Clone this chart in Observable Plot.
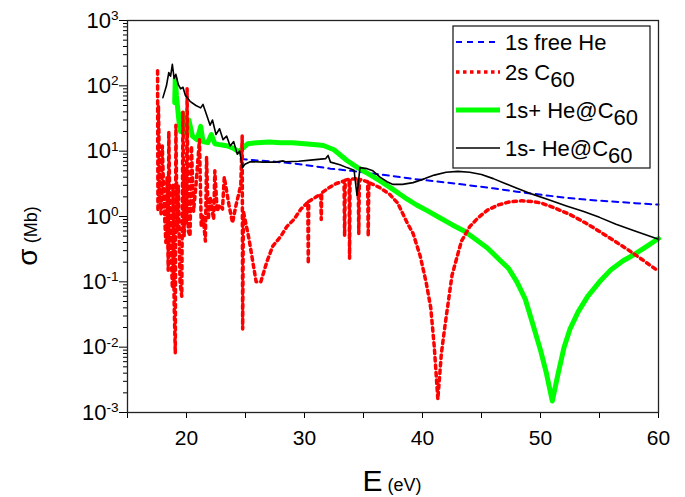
<!DOCTYPE html>
<html><head><meta charset="utf-8">
<script src="https://cdn.jsdelivr.net/npm/d3@7"></script>
<script src="https://cdn.jsdelivr.net/npm/@observablehq/plot@0.6"></script>
<style>body{margin:0;background:#fff} #chart{width:685px;height:497px}</style>
</head><body><div id="chart"></div>
<script>
// 1s free He
const blueE = [24.6,26,27.5,29,30.5,32.2,34,35.5,37.3,39,40.5,42.1,44,46,48,50.1,52,54,56,58,60];
const blueS = [7.6,7.2,6.9,6.5,6.0,5.4,5.0,4.6,4.2,3.8,3.55,3.3,3.0,2.7,2.4,2.15,1.95,1.8,1.7,1.6,1.52];
// 2s C60
const redE = [17.55,17.58,17.62,17.75,17.85,17.95,18.1,18.25,18.35,18.45,18.5,18.6,18.7,18.8,18.85,18.95,19.05,19.1,19.2,19.3,19.45,19.6,19.7,19.8,19.9,20.0,20.05,20.15,20.3,20.42,20.6,20.8,21.1,21.25,21.4,21.6,21.7,21.85,22.0,22.3,22.4,22.6,22.8,23.05,23.2,23.6,23.9,24.2,24.6,24.72,24.76,24.82,25.3,25.9,26.3,26.8,27.3,28.0,28.5,29.1,29.7,30.28,30.32,30.36,31.0,31.38,31.42,31.46,32.0,32.7,33.35,33.4,33.45,33.78,33.82,33.86,34.55,34.6,34.65,35.35,35.4,35.45,36.0,36.4,37.2,37.9,38.7,39.2,39.8,40.3,40.7,41.0,41.3,41.6,41.9,42.5,43.3,44.0,44.7,45.5,46.4,47.4,48.4,49.3,50.1,51.2,52.5,53.8,55.0,56.2,57.3,58.6,60];
const redS = [170,1.2,50,2,1.1,12,1.5,0.4,4,0.15,20,1,0.3,0.08,3,0.05,0.008,25,0.6,3,0.1,0.06,40,0.5,5,0.8,90,0.6,0.5,12,1.2,3,15,0.7,1,0.42,8,0.9,2,0.9,5,1.2,1.5,1.3,4,1.5,0.8,1.5,3,17,0.019,1.2,0.45,0.1,0.1,0.2,0.35,0.5,0.7,0.9,1.3,1.65,0.19,1.7,2.0,2.2,0.9,2.3,2.7,3.2,3.5,0.5,3.6,3.7,0.23,3.75,3.8,0.55,3.7,3.4,0.5,3.3,3.0,2.75,2.2,1.6,0.8,0.55,0.25,0.1,0.04,0.01,0.0016,0.008,0.021,0.126,0.42,0.7,0.95,1.25,1.5,1.68,1.74,1.7,1.6,1.35,1.07,0.8,0.59,0.43,0.32,0.22,0.145];
// 1s+ He@C60
const greenE = [19.0,19.05,19.15,19.35,19.5,19.7,19.9,20.2,20.5,20.9,21.2,21.4,21.8,22.1,22.4,22.9,23.5,24.0,24.4,24.75,25.2,26,27,28,29,30,31,31.6,32.5,33.6,34.5,35.5,36.4,37.5,38.5,39.5,40.4,41.5,42.5,43.6,44.5,45.5,46.5,47.3,48.0,48.7,49.3,50.0,50.5,51.0,51.5,52.0,52.5,53.2,54.0,55.0,56.0,57.0,57.9,59.0,60.0];
const greenS = [55,130,70,30,20,38,18,30,17,15,24,14,13.5,18,13,12.5,12,11,9.8,11,13,13.5,13.8,13.5,13.4,13,12.5,12.2,10.5,7.2,5.6,4.4,3.5,2.6,1.95,1.5,1.23,0.95,0.75,0.59,0.45,0.33,0.22,0.16,0.1,0.055,0.024,0.009,0.004,0.0015,0.004,0.01,0.019,0.035,0.06,0.1,0.155,0.21,0.26,0.35,0.46];
// 1s- He@C60
const blackE = [18.0,18.3,18.5,18.65,18.8,18.95,19.1,19.3,19.5,19.7,19.9,20.3,20.8,21.2,21.4,21.7,22.0,22.2,22.5,22.8,23.1,23.4,23.7,24.0,24.3,24.5,24.75,24.95,25.4,26.5,27.5,28.2,28.4,29.5,30.5,31.8,32.0,32.2,33.0,33.6,34.2,34.45,34.7,35.3,35.8,36.4,37.0,37.5,38.3,39.2,40.2,41,42,43,44,45,46,47,47.9,49.3,50.7,52.2,53.6,55,56.4,58,60];
const blackS = [66,100,160,140,214,130,150,105,90,95,72,58,50,46,52,36,25,30,18,22,15,17,12,14,9,10,5.6,6.3,6.9,6.8,6.8,7.1,6.9,7.0,7.3,7.7,8.6,6.8,6.2,5.6,5.1,2.1,5.6,5.4,5.0,4.0,3.4,3.1,3.1,3.3,3.8,4.3,4.75,4.9,4.75,4.4,3.8,3.2,2.75,2.2,1.8,1.45,1.2,0.97,0.76,0.6,0.45];

const xMajor = [20,30,40,50,60];
const xMinor = [15,25,35,45,55];
const yMajor = [1e-3,1e-2,1e-1,1,10,100,1000];
const yMinor = [];
for (const p of [-3,-2,-1,0,1,2]) for (let k=2;k<=9;k++) yMinor.push(k*Math.pow(10,p));

const legendLabels = [["1s free He"], ["2s C", "60"], ["1s+ He@C", "60"], ["1s- He@C", "60"]];

const rows = (E,S) => E.map((e,i)=>({E:e, s:S[i]}));
const FONT = "'Liberation Sans', Arial, sans-serif";

const svg = Plot.plot({
  width: 685, height: 497,
  marginLeft: 127, marginRight: 27, marginTop: 20, marginBottom: 85,
  style: {fontFamily: FONT, background: "white", color: "#000", overflow: "visible"},
  x: {domain: [15, 60]},
  y: {type: "log", domain: [1e-3, 1e3]},
  marks: [
    Plot.line(rows(blueE, blueS), {x: "E", y: "s", stroke: "#0000ff", strokeWidth: 2, strokeDasharray: "6,5"}),
    Plot.line(rows(greenE, greenS), {x: "E", y: "s", stroke: "#00ff00", strokeWidth: 5}),
    Plot.line(rows(redE, redS), {x: "E", y: "s", stroke: "#ff0000", strokeWidth: 3.5, strokeDasharray: "3.5,4"}),
    Plot.line(rows(blackE, blackS), {x: "E", y: "s", stroke: "#000", strokeWidth: 1.6}),
    Plot.axisX({ticks: xMajor, tickSize: 6, tickPadding: 12, fontSize: 21, label: null, tickFormat: d => String(d)}),
    Plot.axisX({ticks: xMinor, tickSize: 6, label: null, tickFormat: () => ""}),
    Plot.axisY({ticks: yMajor, tickSize: 8, tickPadding: 1, fontSize: 22, label: null, tickFormat: d => "10^" + Math.round(Math.log10(d))}),
    Plot.axisY({ticks: yMinor, tickSize: 4, label: null, tickFormat: () => ""}),
    Plot.frame({stroke: "#222", strokeWidth: 1.3})
  ]
});
document.getElementById("chart").appendChild(svg);

const S = d3.select(svg);
// superscripts for y tick labels
S.selectAll('g[aria-label="y-axis tick label"] text').each(function() {
  const t = d3.select(this);
  const s = t.text();
  if (!s.includes("^")) return;
  const [base, exp] = s.split("^");
  t.text(null);
  t.append("tspan").text(base);
  t.append("tspan").attr("dy", "-0.55em").attr("font-size", "0.62em").text(exp);
});

// axis titles
const yl = S.append("text").attr("transform", "translate(37,236) rotate(-90)")
  .attr("text-anchor", "middle").attr("font-family", FONT).attr("fill", "#000");
yl.append("tspan").attr("font-size", 28).text("σ");
yl.append("tspan").attr("font-size", 18).text(" (Mb)");
const xl = S.append("text").attr("x", 392).attr("y", 491)
  .attr("text-anchor", "middle").attr("font-family", FONT).attr("fill", "#000");
xl.append("tspan").attr("font-size", 30).text("E");
xl.append("tspan").attr("font-size", 18).text(" (eV)");

// legend
const leg = S.append("g").attr("font-family", FONT).attr("font-size", 22).attr("fill", "#000")
  .attr("text-anchor", "start");
leg.append("rect").attr("x", 453).attr("y", 26).attr("width", 197).attr("height", 142)
  .attr("fill", "white").attr("stroke", "#222").attr("stroke-width", 1.3);
const items = [
  {y: 42, stroke: "#0000ff", w: 2, dash: "6,5"},
  {y: 72, stroke: "#ff0000", w: 3.5, dash: "3.5,3.5"},
  {y: 110, stroke: "#00ff00", w: 5, dash: null},
  {y: 148, stroke: "#000000", w: 1.6, dash: null}
];
items.forEach((it, i) => {
  const l = leg.append("line").attr("x1", 456).attr("x2", 500).attr("y1", it.y).attr("y2", it.y)
    .attr("stroke", it.stroke).attr("stroke-width", it.w);
  if (it.dash) l.attr("stroke-dasharray", it.dash);
  const lab = legendLabels[i];
  const t = leg.append("text").attr("x", 505).attr("y", it.y + 8).attr("text-anchor", "start");
  t.append("tspan").text(lab[0]);
  if (lab[1]) t.append("tspan").attr("dy", 7).text(lab[1]);
});
</script>
</body></html>
